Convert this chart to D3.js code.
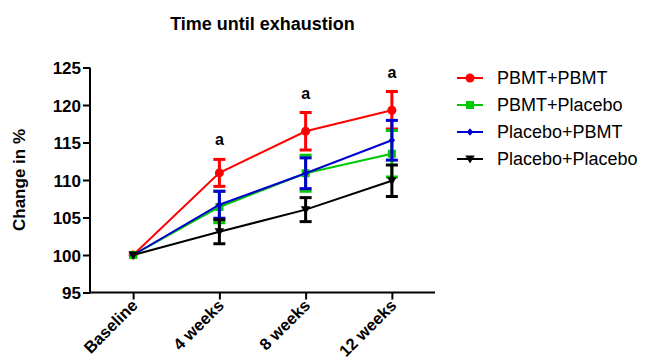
<!DOCTYPE html>
<html><head><meta charset="utf-8">
<script src="https://cdn.jsdelivr.net/npm/d3@7"></script>
<style>body{margin:0;background:#fff}svg{display:block}text{font-family:"Liberation Sans",Arial,sans-serif}</style>
</head><body><svg id="c" width="647" height="361"></svg>
<script>
const categories = ["Baseline", "4 weeks", "8 weeks", "12 weeks"];
const seriesNames = ["PBMT+PBMT", "PBMT+Placebo", "Placebo+PBMT", "Placebo+Placebo"];
const pbmtPbmt = [100, 110.95, 116.5, 119.3];
const pbmtPbmtErr = [0, 1.8, 2.5, 2.5];
const pbmtPlacebo = [100, 106.4, 110.9, 113.5];
const pbmtPlaceboErr = [0, 2.1, 2.4, 3.1];
const placeboPbmt = [100, 106.7, 110.9, 115.3];
const placeboPbmtErr = [0, 1.8, 2.05, 2.65];
const placeboPlacebo = [100, 103.1, 106.05, 109.9];
const placeboPlaceboErr = [0, 1.6, 1.6, 2.1];
const yTicks = [95, 100, 105, 110, 115, 120, 125];
const sigLabels = ["", "a", "a", "a"];

const colors = ["#ff0000", "#00c800", "#0000cc", "#000000"];
const markers = ["circle", "square", "diamond", "tri"];
const series = [
  {name: seriesNames[0], v: pbmtPbmt, e: pbmtPbmtErr},
  {name: seriesNames[1], v: pbmtPlacebo, e: pbmtPlaceboErr},
  {name: seriesNames[2], v: placeboPbmt, e: placeboPbmtErr},
  {name: seriesNames[3], v: placeboPlacebo, e: placeboPlaceboErr}
];

const svg = d3.select("#c");
const x = d3.scalePoint().domain(categories).range([90, 435]).padding(0.5);
const y = d3.scaleLinear().domain([95, 125]).range([292.5, 67.5]);

function marker(g, type, color) {
  if (type === "circle") g.append("circle").attr("r", 4.5).attr("fill", color);
  else if (type === "square") g.append("rect").attr("x", -4).attr("y", -4).attr("width", 8).attr("height", 8).attr("fill", color);
  else if (type === "diamond") g.append("path").attr("d", "M0,-3.8L3.2,0L0,3.8L-3.2,0Z").attr("fill", color);
  else g.append("path").attr("d", "M-4.8,-3.5L4.8,-3.5L0,4.5Z").attr("fill", color);
}

// axes
const yAxis = svg.append("g").attr("transform", "translate(90,0)")
  .call(d3.axisLeft(y).tickValues(yTicks).tickSize(7).tickPadding(2).tickSizeOuter(0));
const xAxis = svg.append("g").attr("transform", "translate(0,292.5)")
  .call(d3.axisBottom(x).tickSize(7).tickSizeOuter(0));
[yAxis, xAxis].forEach(a => {
  a.select(".domain").attr("stroke", "#000").attr("stroke-width", 2);
  a.selectAll(".tick line").attr("stroke", "#000").attr("stroke-width", 2);
});
yAxis.select(".domain").attr("d", "M0,293.5V67.5");
xAxis.select(".domain").attr("d", "M89,0H435");
yAxis.selectAll(".tick text").attr("font-size", 17).attr("font-weight", "bold").attr("fill", "#000")
  .attr("font-family", '"Liberation Sans",Arial,sans-serif').attr("dy", "0.36em");
xAxis.selectAll(".tick text").attr("font-size", 16.5).attr("font-weight", "bold").attr("fill", "#000")
  .attr("font-family", '"Liberation Sans",Arial,sans-serif')
  .attr("text-anchor", "end").attr("dy", null).attr("y", 0)
  .attr("transform", "translate(5,14) rotate(-45)");

// series
series.forEach((s, i) => {
  const g = svg.append("g");
  const pts = categories.map((c, j) => ({c, v: s.v[j], e: s.e[j]}));
  g.append("path").datum(pts)
    .attr("d", d3.line().x(d => x(d.c)).y(d => y(d.v)))
    .attr("fill", "none").attr("stroke", colors[i]).attr("stroke-width", 2);
  pts.filter(d => d.e > 0).forEach(d => {
    const cx = x(d.c);
    g.append("line").attr("x1", cx).attr("x2", cx).attr("y1", y(d.v - d.e)).attr("y2", y(d.v + d.e))
      .attr("stroke", colors[i]).attr("stroke-width", 3);
    [d.v - d.e, d.v + d.e].forEach(v => g.append("line").attr("x1", cx - 6).attr("x2", cx + 6)
      .attr("y1", y(v)).attr("y2", y(v)).attr("stroke", colors[i]).attr("stroke-width", 3));
  });
  pts.forEach(d => marker(g.append("g").attr("transform", `translate(${x(d.c)},${y(d.v)})`), markers[i], colors[i]));
});

// significance labels
categories.forEach((c, j) => {
  if (!sigLabels[j]) return;
  svg.append("text").attr("x", x(c)).attr("y", y(pbmtPbmt[j] + pbmtPbmtErr[j]) - 14)
    .attr("text-anchor", "middle").attr("font-size", 16).attr("font-weight", "bold").text(sigLabels[j]);
});

// title and y label
svg.append("text").attr("x", 262.5).attr("y", 30).attr("text-anchor", "middle")
  .attr("font-size", 18).attr("font-weight", "bold").text("Time until exhaustion");
svg.append("text").attr("transform", "translate(25,180) rotate(-90)").attr("text-anchor", "middle")
  .attr("font-size", 17).attr("font-weight", "bold").text("Change in %");

// legend
series.forEach((s, i) => {
  const ly = 78 + i * 27;
  const g = svg.append("g").attr("transform", `translate(0,${ly})`);
  g.append("line").attr("x1", 457).attr("x2", 483).attr("stroke", colors[i]).attr("stroke-width", 2);
  marker(g.append("g").attr("transform", "translate(470,0)"), markers[i], colors[i]);
  g.append("text").attr("x", 497).attr("y", 0).attr("dy", "0.36em").attr("font-size", 18).text(s.name);
});
</script></body></html>
